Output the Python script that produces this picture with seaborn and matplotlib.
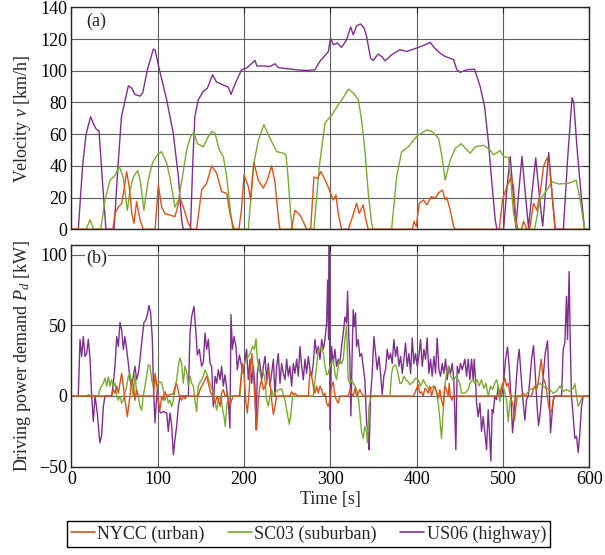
import numpy as np
import pandas as pd
import matplotlib
matplotlib.use("Agg")
import matplotlib.pyplot as plt
from matplotlib.lines import Line2D
import seaborn as sns

# ---------------- data ----------------
series_names = ["NYCC (urban)", "SC03 (suburban)", "US06 (highway)"]
series_colors = ["#D95319", "#77AC30", "#7E2F8E"]

# Velocity [km/h]
nycc_v_t = [0, 48, 50.5, 54.4, 58.3, 61, 64, 67, 70, 72.5, 75.6, 79.5, 83.3, 97, 100.7, 104.6, 108.4, 114.2, 120,
            125.8, 129.7, 135.5, 139.3, 145, 151, 156.7, 162.5, 168.3, 174, 180, 183.7, 187.6, 189, 194, 197, 200,
            205, 207.7, 211.5, 216.5, 222.3, 227, 232, 235.8, 239.7, 241.6, 255, 259, 264.8, 268.7, 272.5, 277.2,
            281, 284.9, 289, 295, 298.8, 303.4, 306.5, 309.2, 313, 320.8, 324.6, 330.4, 333.5, 338, 341.2, 344, 395,
            397, 399.5, 403, 408, 411.9, 417, 421.5, 425.4, 430, 433, 435, 439, 442.8, 444.7, 495.7, 499.5, 504.5,
            509.6, 512.3, 515, 517.3, 521.5, 523.8, 527.7, 531, 533.5, 535.4, 539.3, 543, 547, 551, 553.6, 556.7,
            560.5, 598]
nycc_v = [0, 0, 10, 14, 16.4, 25, 36.4, 27, 10, 3.8, 17.5, 6, 0, 0, 28, 14, 10, 9, 8,
          19.6, 14, 3.8, 0, 0, 25, 29, 40, 35.4, 23.8, 22.7, 10, 1.7, 0, 0, 12, 34.3,
          27, 18.5, 42, 31, 26, 31, 40, 30, 8, 0, 0, 12, 9, 4.8, 0, 0,
          33, 32, 36.4, 30, 25, 18.5, 21.7, 10, 0, 0, 6, 16.4, 10, 15.4, 6, 0, 0,
          5, 1.7, 16.4, 18.5, 15.4, 20.6, 19.6, 23, 24.8, 18.5, 20, 12, 1.7, 0, 0, 18.5, 27,
          33, 27, 6, 0, 0, 5, 0, 0, 10, 16.4, 12, 22.7, 39.6, 45, 41.7, 22.7,
          0, 0]

sc03_v_t = [0, 17, 21.6, 26, 34, 39, 44.7, 50.5, 55.5, 60, 64.8, 68, 71.8, 76.8, 80, 84, 89, 94, 99.6, 104.6,
            110.4, 114, 120, 124, 128, 133.5, 138, 142, 146, 152.8, 157.5, 162.5, 166.4, 171.4, 176, 180, 183.7,
            187, 205, 210.7, 216.5, 223, 230, 237.8, 245.5, 248.6, 251, 254, 256, 281, 287.2, 293.8, 301.5, 309.2,
            317, 320.8, 326.6, 332.4, 336.2, 340, 344, 347.8, 349.7, 371, 376.8, 382.6, 390.3, 396, 402, 412,
            417.7, 425.4, 429.3, 433, 439, 444.7, 451.6, 462, 467.8, 477.5, 485.2, 489, 496.8, 500.7, 506.5,
            509.6, 512.3, 516, 536.6, 543, 551, 556.7, 564.4, 576, 584.8, 589.5, 594.5, 600]
sc03_v = [0, 0, 6, 0, 0, 18.5, 31, 34, 39.6, 33, 12, 25, 33, 37, 30, 12, 31, 42, 47, 49,
          41.7, 33, 14, 18.5, 31, 50, 58.5, 61, 54, 52, 57.5, 61.7, 60.6, 50, 46, 33, 14,
          0, 0, 39.6, 56, 66, 57.5, 49, 48, 47, 33, 10, 0, 0, 39.6, 67, 72, 78.5,
          84.8, 88.4, 86, 81.7, 69, 50, 22.7, 3.8, 0, 0, 33, 49, 52, 56, 59.6, 62.7,
          61.7, 57.5, 46, 31, 43.8, 51, 54, 48, 52, 53, 50, 47, 49.7, 46, 45,
          27, 10, 0, 0, 18.5, 25, 30, 28.6, 29, 31, 18.5, 0, 0]

us06_v_t = [0, 8, 13, 17, 22.3, 26, 29, 32, 36, 40, 49.4, 54, 58, 66, 70, 73.7, 79.5, 82.6, 88, 95, 97, 102,
            110.4, 118, 124, 127.7, 129.6, 138, 140.5, 143, 147, 152.8, 157.5, 163.6, 168, 176, 181.8, 185, 187.6,
            191.5, 197.2, 203, 212.7, 215, 222, 230, 235.8, 239.7, 249.4, 261, 272.5, 282, 288, 297.6, 300.3,
            303.4, 308, 313, 318.9, 323.5, 326.6, 330.4, 335, 339, 342, 346.6, 349.7, 355.5, 359.4, 363.3, 371,
            380.6, 388.4, 394.5, 402, 410, 415.7, 420.8, 427.3, 433, 442.8, 446.6, 450.5, 458, 467, 473.6, 478.7,
            483.3, 487.2, 491, 493, 500.7, 504.5, 508.4, 511.5, 515, 518.5, 522, 525.5, 529.6, 534, 538, 542,
            546, 549.5, 553, 557, 560.5, 570, 575, 580, 582, 586, 590, 594.5, 600]
us06_v = [0, 0, 40, 60, 71, 66, 63, 62, 30, 0, 0, 40, 71, 90.5, 89, 85, 84, 86, 100.6, 113.7, 113, 100.6,
          81.7, 60.6, 33, 6, 0, 0, 40, 71, 81.7, 87, 89, 97.5, 93, 91, 89.7, 85, 89,
          94, 100.6, 101.7, 106.5, 103, 103, 102.7, 104.4, 102, 101.3, 100.6, 100.2, 100.6, 106, 112, 120.6,
          116.4, 117.5, 114.7, 119.6, 127.6, 122.7, 128.4, 129.5, 127, 121.7, 108, 106.5, 110.5, 109, 106.3, 110,
          113.3, 112.2, 113.3, 114.7, 116.4, 117.9, 114.3, 111, 109, 107, 100.6, 99, 100.6, 101, 90, 77.5,
          54.3, 29, 6, 0, 0, 25, 46, 25, 1, 25, 46, 25, 1, 25, 45, 22,
          2, 25, 48.4, 22, 0, 0, 45, 83, 80, 50, 25, 0, 0]

# Driving power demand [kW]
nycc_p_t = [0, 46.7, 48.6, 50.5, 52.5, 54.4, 56.3, 58.2, 60.2, 62, 63.3, 64.8, 66.4, 67.9, 69.8, 71.8, 73.7, 75.6,
            77.5, 95, 96.9, 98.8, 100.7, 102.6, 104.6, 106.5, 108.4, 110.4, 114.2, 118, 121.2, 122.7, 125, 127.7,
            129.7, 131.6, 133.5, 147, 149, 150.9, 152.8, 156.7, 158.7, 161.4, 163.8, 166.4, 169, 172.2, 174, 176,
            178, 180, 181.8, 183.7, 185.6, 187.6, 194.6, 196, 198, 200, 201.9, 203.8, 205.8, 207.7, 209.2, 210.8,
            212.7, 214.6, 216.6, 218.5, 220.4, 222.4, 224.3, 226.2, 228.2, 230, 232, 234, 235.9, 237.8, 253.2,
            255.2, 257, 259, 262, 274.5, 276.4, 278.3, 280.3, 282.2, 284.1, 286, 288, 290, 291.9, 293.8, 295.7,
            297.6, 299.5, 301.4, 303.4, 305.3, 307.2, 309.2, 311, 320.7, 322.7, 324.6, 326.5, 328.5, 330.4, 332.3,
            334.2, 336.2, 338.1, 396, 398, 399.9, 401.8, 403.7, 405.6, 407.6, 409.5, 411.5, 413.4, 415.3, 417.2,
            419.2, 421.1, 423.1, 425, 427, 428.8, 430.8, 432.7, 434.6, 436.6, 437.7, 439, 440.8, 442.4, 496.4,
            498.4, 500.3, 502.2, 504.2, 506.1, 508, 510, 511.9, 513.4, 515, 516.5, 521.5, 523.5, 525.4, 533.1, 535,
            537, 538.9, 540.8, 542.8, 544.3, 545.9, 547.4, 549, 550.5, 552.4, 554.3, 556.3, 558.2, 560.1, 600]
nycc_p = [0, 0, 4.5, 2, 7, 2, 9, 16, 7, -3, -7.3, -14.6, -7.3, 0, 11.5, 7, -3, 4.5,
          0, 0, 16, 9, -3, -10, 0, -3, 3, 0, 1, 1.5, 9, 7, 0, -3,
          0, -2, 0, 0, 4.5, 7, 9, 14, 9, 2, 0, -5, 0, -7.3, 2, 4.5,
          0, 1, -3, -7.3, -3, 0, 0, 9, 23, 16, -3, -12, 2, 21, 30, 16,
          -3, -24, -3, 7, 11.5, 4.5, 7, 9, 18.6, 11.5, -3, -13, -7.3, 0, 0,
          3, 1, 2, 0, 0, 17.5, 14, 7, 2, 7, 2, 7, 4.5, 0, 2, -5,
          -7.3, -3, 7, 10, 0, -3, -5, 0, 0, 4.5, 2, 0, 5.4, 0, 2,
          4.5, 2, 0, 0, 2, 5.4, 8, 2, 3, 0, 5.4, 4.5, 2, 7, 0,
          4.5, 7, 3, -1.5, 4.5, -3, -7.3, 7, 4.5, 0, 9, 0, -3, 0, 0,
          7, 9, 12.7, 7, 9, 2, -3, -7.3, -17, -7.3, 0, 0, 2, 0, 0, 4.5,
          7, 4.5, 9, 18.6, 26, 16, 11.5, 9, 4.5, -5, -12, -11, -3, 0, 0]

sc03_p_t = [0, 17.7, 20, 23, 31, 33, 35, 37, 39, 40.9, 42.8, 44.7, 46.7, 48.6, 50.5, 52.5, 54.4, 56.3, 58.2, 60.2,
            62, 64, 66, 67.9, 69.8, 71.8, 73.7, 75.6, 77.5, 79.5, 81.4, 83.3, 85.3, 87.2, 89.1, 91, 93, 94.9, 96.9,
            98.8, 100.7, 102.6, 104.6, 106.5, 108.4, 110.4, 112.3, 114.2, 116.2, 118.1, 120, 122, 123.9, 125.8,
            127.7, 129.7, 131.6, 133.5, 135.5, 137.4, 139.3, 141.3, 143.2, 145.1, 147, 149, 151, 152.8, 154.8,
            156.7, 160.6, 164.4, 168.3, 170.2, 173, 175.3, 176.8, 178.3, 180, 181.8, 195.3, 197.3, 199.2, 203,
            207, 210, 212, 213.9, 215.4, 217, 218.5, 221.6, 224.3, 226.2, 228.2, 230, 232, 234, 235.9, 239.7,
            243.6, 247.5, 250, 252.5, 254, 256.3, 280.3, 282.2, 284.1, 286, 288, 290, 291.9, 293.8, 295.7, 297.6,
            299.5, 303.4, 305.3, 307.2, 309.2, 311, 313, 315, 316.9, 318.8, 320.7, 322.7, 324.6, 326.5, 328.5,
            330.4, 332.3, 334.2, 336.2, 338.1, 340, 342, 343.1, 344.7, 346.6, 348.5, 369, 371, 372.9, 375.6,
            377.9, 380.6, 382.5, 385.2, 387.5, 390.2, 392.2, 396, 399, 401.8, 404.5, 407.6, 411.5, 415.3, 419.2,
            422.3, 425, 427, 428.8, 430.8, 432.7, 434.6, 436.6, 438.5, 440.4, 442.4, 446.2, 450, 452, 455.9,
            459.8, 461.7, 464.8, 467.5, 470.2, 472.5, 475.2, 477.9, 480.2, 482.9, 485.6, 488, 490.6, 492.6,
            494.5, 496.4, 499.5, 502.2, 504.2, 506.1, 508, 510, 525.4, 528, 531.2, 535, 538.9, 542.8, 546.6,
            550.5, 554.3, 558.2, 562, 566, 569.8, 573.6, 577.5, 581.4, 583.3, 585.2, 587.2, 589.1, 591, 593, 600]
sc03_p = [0, 0, 1, 0, 0, 4.5, 7, 9, 12.7, 7, 13.4, 7, 11.5, 7, 9, 0, -3, 0, -5, -3,
          2, 7, 14, 16, 7, 0, 16, 2, 0, -7.5, -10, 0, 7, 14, 22, 21.5, 11.5, 7, 11.5,
          7, 9, 10, 9, 4.5, -3, 1, -5, -3, -7.5, -3, 4.5, 11.5, 21, 27,
          23, 9, 21, 17.5, 7, 14, 9, 7, -3, -11, 7, 10, 11.5, 14, 18.6,
          16, 9, 2, -10, -3, 0, -10, -14.4, -21.5, -7.3, 0, 0, 16, 21, 26,
          30, 35, 33, 40.5, 26, 21, 16, 18.6, 11.5, -3, -7.3, 0, 4.5, 0, 2, 4.5,
          5, -3, -12, -20, -14.4, 0, 0, 11.5, 21, 33, 33, 35, 30, 21, 15, 16,
          21, 26, 16, 11.5, 21, 26, 23, 26, 40, 50.5, 11.5, 9, 11.5, 9, 7,
          4.5, 0, -12, -25, -30, -21.5, -26, -33, -7.3, -1.7, 0, 0, 16, 21, 22,
          17.5, 9, 9, 14, 11.5, 10, 8, 10, 12.7, 11.5, 7, 11.5, 7, 4.5, 7,
          4.5, -5, -17, -30, -10, 7, 16, 21, 16, 12.7, 11.5, 14, 9, 2, 2,
          4.5, 9, 11.5, 9, 11.5, 7, 11.5, 5.4, 9, 0, 7, 4.5, 9, 11.5,
          7, -4, 9, 2, -3, -18, -5, 0, 0, 2, 4.5, 5.4, 7, 9, 7,
          5.4, 4.5, 2, 3.3, 7, 3.3, 4.5, 3.3, 5.4, 8.7, 0, -7.3, -5, -1.7, 0, 0]

us06_p_t = [0, 8, 10, 11.9, 13.8, 15.8, 17.7, 19.6, 21.6, 23.5, 25.4, 27.4, 30, 33, 35, 37, 39, 46.7, 48.6, 50.5,
            52.5, 54.4, 56.3, 58.2, 60.2, 62, 64, 66, 67.9, 69.8, 71.8, 73.7, 75.6, 77.5, 79.5, 81.4, 84, 86.4, 88,
            89.9, 91.8, 93.8, 95, 96.9, 98, 99.6, 101.5, 103.4, 106.5, 110.4, 112.3, 114.2, 116.2, 118.1, 120,
            122, 123.9, 125.8, 135.5, 137.4, 139.3, 142, 144.3, 145.9, 148.2, 150.9, 152.9, 154.8, 156.7, 158.7,
            160.6, 162.5, 164.4, 166.4, 168.3, 170.2, 172.2, 174, 176, 178, 180, 181.8, 183.7, 184.9, 186.5,
            188.4, 190.7, 192.2, 194.6, 197.3, 199.2, 201, 203, 205, 207, 208.8, 210.8, 212.7, 213.9, 215.4,
            217.7, 220.4, 222.4, 224.3, 226.2, 228.2, 230, 232, 234, 235.9, 237.8, 239.7, 241.7, 243.6, 245.5,
            247.5, 249.4, 251.3, 253.2, 255.2, 257.1, 259, 261, 262.9, 264.8, 266.8, 268.7, 270.6, 272.5, 274.5,
            276.4, 278.3, 280.3, 282.2, 284.1, 286, 288, 290, 291.9, 293.8, 295.7, 296.9, 298, 298.8, 299.6,
            301.4, 303.4, 305.3, 307.2, 309.2, 311, 313, 315, 316.9, 318.8, 320, 321.5, 322.7, 323.8, 325.4,
            326.5, 327.7, 329.2, 330.4, 332.3, 334.2, 336.2, 338.1, 340, 342, 343.9, 345, 346.6, 348.5, 350.5,
            352.4, 354.3, 356.3, 358.2, 360.1, 362, 364, 365.9, 367.8, 369.8, 371.7, 373.6, 375.6, 377.5, 379.4,
            381.4, 383.3, 385.2, 387.1, 389.1, 391, 393, 394.9, 396.8, 398.7, 400.7, 402.6, 404.5, 406.5, 408.4,
            410.3, 412.2, 414.2, 416.1, 418, 420, 421.9, 423.8, 425.8, 427.7, 429.6, 431.5, 433.5, 435.4, 437.3,
            439.3, 441.2, 443.1, 445.4, 447, 449, 450.8, 452.8, 454.7, 455.9, 457.8, 459.8, 461.7, 463.6, 465.5,
            466.7, 468.2, 469.4, 471.3, 473.3, 475.2, 477.1, 479, 481, 482.9, 484.8, 486, 487.5, 488.7, 490.6,
            492.6, 494.5, 496.4, 498.4, 500.3, 503, 505.3, 507.2, 509.2, 511.1, 513, 515, 516.9, 518.8, 520.8,
            522.7, 525.4, 527.3, 529.3, 531.2, 533.1, 535.4, 537.4, 539.3, 541.2, 543.2, 545.1, 547, 548.9,
            551.6, 553.6, 555.1, 557, 559, 567.9, 569.8, 571.7, 573.6, 574.8, 576.7, 577.9, 579.4, 581.4, 583.3,
            585.2, 587.2, 589.1, 591, 593, 600]
us06_p = [0, 0, 40, 28, 42, 28, 30, 40, 26, 0, -18, 0, -12, -33, -28, -7.5, 0, 0, 9, 21,
          42, 35, 52, 47, 33, 42, 33, 23, 11.5, 7, 14, 21, 11.5, 16, 26, 37.5, 52, 54, 57.5,
          64, 58.7, 40, 7, -19, -7.3, 4.5, -10, -12, -11, -12, -25, -12, -21, -41.5, -31,
          -21, -7.5, 0, 0, 44.5, 56, 63.4, 44.5, 29, 33, 21, 24, 44.5, 33, 40,
          23, 21, -7.5, 14, 9, 18.6, 11.5, 21, 7, 15, 4.5, -3, -22.6, 57.5, 33,
          42, 35, 18.6, 29, 21, 16, 24.5, 33, 11.5, 26, 9, 21, 7, -24, 16,
          26, 11.5, 21, 28, 11.5, 23, 7, 16, 26, 0, 21, 30, 9, 23, 16,
          11.5, 26, 14, 21, 7, 23, 16, 26, 14, 35, 21, 11.5, 26, 16, 28,
          18.6, 14, 23, 40, 30, 35, 26, 40, 33, 40, 51.6, 82, 40, 107, -24,
          35, 23, 33, 21, 26, 23, 35, 44.5, 56, 51.6, 74, 40, 26, -14, 33,
          61, 49, 58.7, 35, 40, 28, 30, 21, 11.5, -19, -26, -38, 0, 16, 42,
          30, 18.6, 28, 16, 1, 14, 18.6, 33, 26, 30, 23, 40, 28, 35, 21,
          28, 16, 26, 37.5, 21, 30, 16, 41, 23, 30, 21, 28, 40, 21, 33,
          26, 41, 16, 26, 14, 28, 16, 41, 18.6, 14, 23, 16, 26, 11.5, 21,
          16, 23, 11.5, -38, 21, 16, 23, 18.6, 23, 26, 14, 26, 11.5, 26, 11.5,
          26, 11.5, -5, -14.6, -5, -25, -14.6, -26, -38, -9.7, -31, -46, -9.7, -12, 0,
          -2.6, 7, 0, 0, 7, 26, 34.6, 21, 0, -26, -12, 7, 23, 33, 16,
          0, -17, -2.6, 0, 11.5, 26, 35.6, 16, -5, -21, -12, 2, 16, 30,
          39, 7, -26, -12, 0, 0, 33, 37.5, 70.5, 40, 88, 40, 0, -14.6, -30,
          -28.5, -40, -26, -7.5, 0, 0]

vel_ticks = [0, 20, 40, 60, 80, 100, 120, 140]
pow_ticks = [-50, 0, 50, 100]
time_ticks = [0, 100, 200, 300, 400, 500, 600]

# ---------------- style ----------------
sns.set_theme(style="white")
plt.rcParams["font.family"] = ["Liberation Serif", "DejaVu Serif"]
plt.rcParams["mathtext.fontset"] = "custom"
plt.rcParams["mathtext.rm"] = "Liberation Serif"
plt.rcParams["mathtext.it"] = "Liberation Serif:italic"
FS = 13

fig = plt.figure(figsize=(6.05, 5.55), dpi=100)
ax1 = fig.add_axes([0.118, 0.5868, 0.856, 0.400])
ax2 = fig.add_axes([0.118, 0.1591, 0.856, 0.400])

vel = [(nycc_v_t, nycc_v), (sc03_v_t, sc03_v), (us06_v_t, us06_v)]
pw = [(nycc_p_t, nycc_p), (sc03_p_t, sc03_p), (us06_p_t, us06_p)]

# draw US06 first, NYCC last (on top)
for idx in [2, 1, 0]:
    t, v = vel[idx]
    sns.lineplot(x=np.array(t), y=np.array(v), ax=ax1, color=series_colors[idx],
                 linewidth=1.0, estimator=None, sort=False, legend=False)
    t, p = pw[idx]
    sns.lineplot(x=np.array(t), y=np.array(p), ax=ax2, color=series_colors[idx],
                 linewidth=1.0, estimator=None, sort=False, legend=False)

for ax in (ax1, ax2):
    ax.set_xlim(0, 600)
    ax.set_xticks(time_ticks)
    ax.grid(True, color="#5e5e5e", linewidth=0.8)
    ax.set_axisbelow(True)
    for s in ax.spines.values():
        s.set_color("#262626")
        s.set_linewidth(1.0)
    ax.tick_params(direction="in", length=4, width=0.8, top=True, right=True,
                   labelsize=FS, colors="#262626", labelcolor="black", pad=3)

ax1.set_ylim(0, 140)
ax1.set_yticks(vel_ticks)
ax1.set_xticklabels([])
ax1.set_xlabel("")
ax1.set_ylabel(r"Velocity $v$ [km/h]", fontsize=FS)
ax1.yaxis.set_label_coords(-0.074, 0.5)
ax1.text(0.028, 0.935, "(a)", transform=ax1.transAxes, fontsize=FS, va="center", ha="left",
         bbox=dict(facecolor="white", edgecolor="none", pad=0.5))

ax2.set_ylim(-50, 107)
ax2.set_yticks(pow_ticks)
ax2.set_xlabel("Time [s]", fontsize=FS, labelpad=2)
ax2.set_ylabel(r"Driving power demand $P_d$ [kW]", fontsize=FS)
ax2.yaxis.set_label_coords(-0.074, 0.5)
ax2.text(0.028, 0.94, "(b)", transform=ax2.transAxes, fontsize=FS, va="center", ha="left",
         bbox=dict(facecolor="white", edgecolor="none", pad=0.5))

handles = [Line2D([0], [0], color=c, lw=1.2) for c in series_colors]
leg = fig.legend(handles, series_names, loc="center", bbox_to_anchor=(0.51, 0.038), ncol=3,
                 fontsize=FS, frameon=True, fancybox=False, framealpha=1, edgecolor="black",
                 handlelength=1.3, handletextpad=0.15, columnspacing=1.3, borderpad=0.25,
                 borderaxespad=0)
leg.get_frame().set_linewidth(1.0)

fig.savefig("out.png", dpi=100)
